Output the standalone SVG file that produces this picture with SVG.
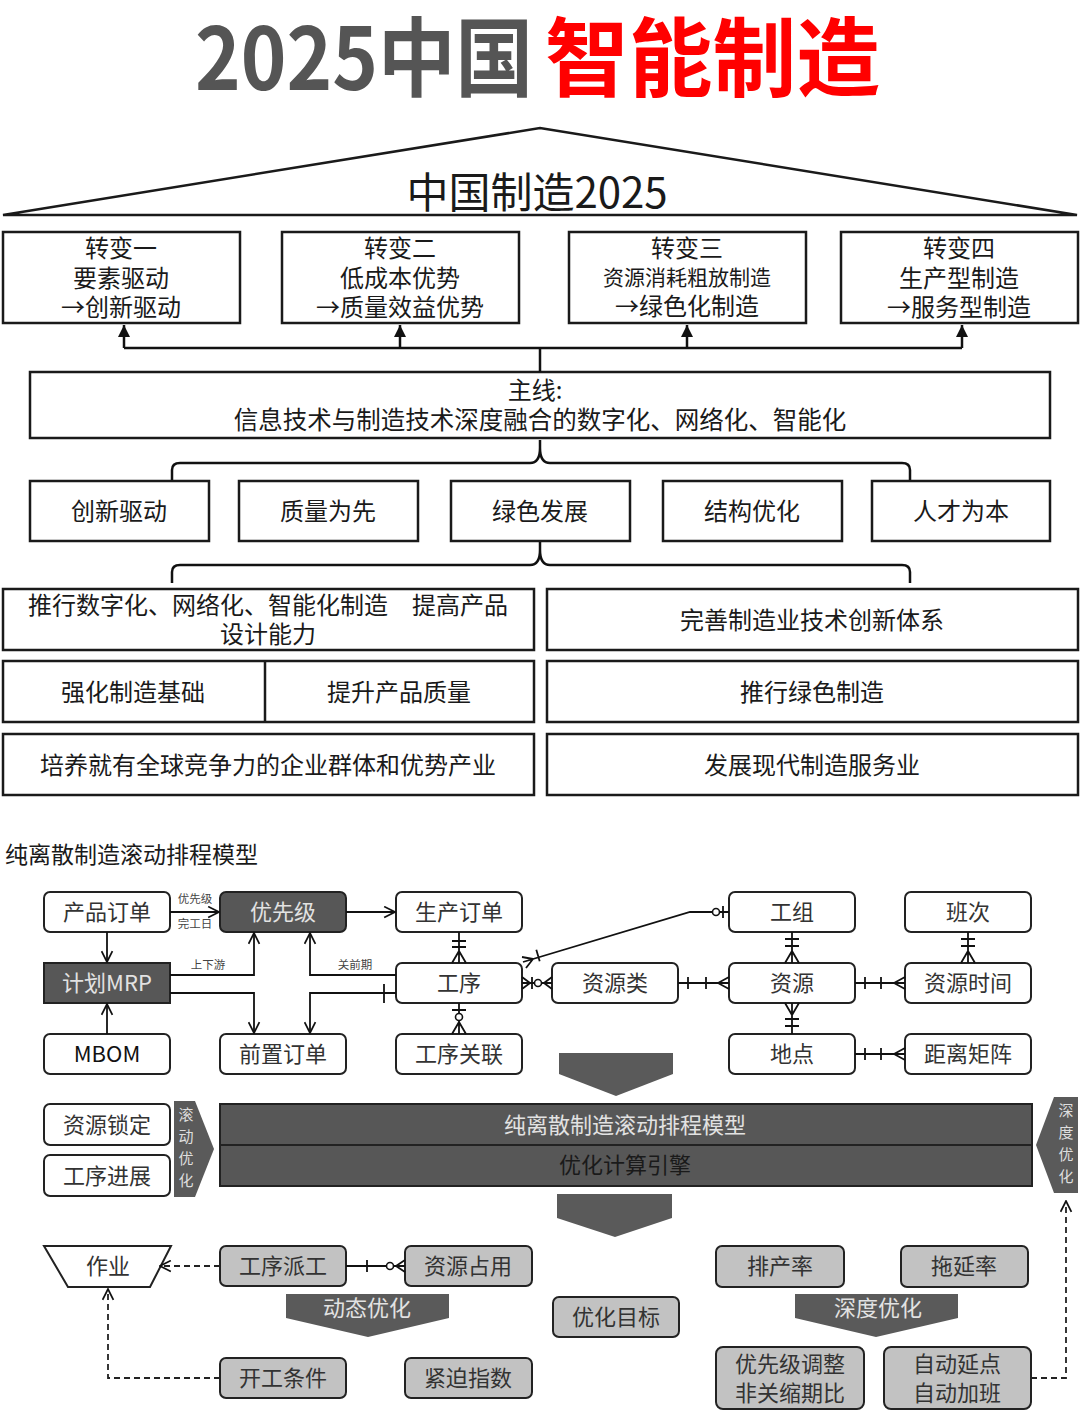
<svg xmlns="http://www.w3.org/2000/svg" width="1080" height="1411" viewBox="0 0 1080 1411">
<style>
text{font-family:"Noto Sans CJK SC","Noto Sans CJK JP","Liberation Sans",sans-serif;text-anchor:middle;dominant-baseline:central;transform:translate(0px,-2px)}
.bx{fill:#fff;stroke:#1a1a1a;stroke-width:2.5}
.t24{font-size:24px;fill:#1a1a1a}
.t21{font-size:21px;fill:#1a1a1a}
.nd{fill:#fff;stroke:#222;stroke-width:2}
.dk{fill:#575757;stroke:#222;stroke-width:2}
.gy{fill:#c2c2c2;stroke:#222;stroke-width:2}
.t22{font-size:22px;fill:#333}
.tw{font-size:22px;fill:#e2e2e2}
.sm{font-size:11.5px;fill:#444}
.vt{font-size:15px;fill:#dedede}
.ln{fill:none;stroke:#111;stroke-width:2.5}
.er{fill:none;stroke:#111;stroke-width:1.8}
.ds{fill:none;stroke:#222;stroke-width:1.8;stroke-dasharray:6,4}
.ban{fill:#5a5a5a}
</style>
<defs>
<marker id="fa" viewBox="0 0 10 10" refX="10" refY="5" markerWidth="14" markerHeight="12" markerUnits="userSpaceOnUse" orient="auto"><path d="M0,0 L10,5 L0,10 z" fill="#111"/></marker>
<marker id="oa" viewBox="0 0 12 12" refX="11" refY="6" markerWidth="13" markerHeight="13" markerUnits="userSpaceOnUse" orient="auto"><path d="M1,1 L11,6 L1,11" fill="none" stroke="#111" stroke-width="1.6"/></marker>
</defs>
<rect width="1080" height="1411" fill="#fff"/>

<g id="title">
<text x="195" y="54" style="text-anchor:start;font-size:86px;font-weight:700;fill:#555" textLength="338" lengthAdjust="spacingAndGlyphs">2025中国</text>
<text x="545" y="54" style="text-anchor:start;font-size:86px;font-weight:700;fill:#ff0000" textLength="335" lengthAdjust="spacingAndGlyphs">智能制造</text>
</g>

<g id="roof">
<path d="M3,215 L540,128 L1077,215 Z" fill="#fff" stroke="#1a1a1a" stroke-width="2.5"/>
<text x="537" y="191" style="font-size:42px;fill:#1a1a1a">中国制造2025</text>
</g>

<g id="change1"><rect class="bx" x="3" y="232" width="237" height="91"/>
<text class="t24" x="121" y="248">转变一</text><text class="t24" x="121" y="278">要素驱动</text><text class="t24" x="121" y="307">→创新驱动</text></g>
<g id="change2"><rect class="bx" x="282" y="232" width="237" height="91"/>
<text class="t24" x="400" y="248">转变二</text><text class="t24" x="400" y="278">低成本优势</text><text class="t24" x="400" y="307">→质量效益优势</text></g>
<g id="change3"><rect class="bx" x="569" y="232" width="237" height="91"/>
<text class="t24" x="687" y="248">转变三</text><text class="t21" x="687" y="278">资源消耗粗放制造</text><text class="t24" x="687" y="306">→绿色化制造</text></g>
<g id="change4"><rect class="bx" x="841" y="232" width="237" height="91"/>
<text class="t24" x="959" y="248">转变四</text><text class="t24" x="959" y="278">生产型制造</text><text class="t24" x="959" y="307">→服务型制造</text></g>

<g id="mainline"><rect class="bx" x="30" y="372" width="1020" height="66"/>
<text class="t24" x="535" y="390">主线:</text><text class="t24" x="540" y="420" style="font-size:24.5px">信息技术与制造技术深度融合的数字化、网络化、智能化</text></g>

<g id="p1"><rect class="bx" x="30" y="481" width="179" height="60"/><text class="t24" x="119" y="511">创新驱动</text></g>
<g id="p2"><rect class="bx" x="239" y="481" width="179" height="60"/><text class="t24" x="328" y="511">质量为先</text></g>
<g id="p3"><rect class="bx" x="451" y="481" width="179" height="60"/><text class="t24" x="540" y="511">绿色发展</text></g>
<g id="p4"><rect class="bx" x="663" y="481" width="179" height="60"/><text class="t24" x="752" y="511">结构优化</text></g>
<g id="p5"><rect class="bx" x="872" y="481" width="178" height="60"/><text class="t24" x="961" y="511">人才为本</text></g>

<g id="r1l"><rect class="bx" x="3" y="589" width="531" height="61"/>
<text class="t24" x="268" y="605">推行数字化、网络化、智能化制造　提高产品</text><text class="t24" x="268" y="634">设计能力</text></g>
<g id="r1r"><rect class="bx" x="547" y="589" width="531" height="61"/><text class="t24" x="812" y="620">完善制造业技术创新体系</text></g>
<g id="r2l"><rect class="bx" x="3" y="661" width="531" height="61"/><line x1="265" y1="661" x2="265" y2="722" stroke="#1a1a1a" stroke-width="2.5"/>
<text class="t24" x="133" y="692">强化制造基础</text><text class="t24" x="399" y="692">提升产品质量</text></g>
<g id="r2r"><rect class="bx" x="547" y="661" width="531" height="61"/><text class="t24" x="812" y="692">推行绿色制造</text></g>
<g id="r3l"><rect class="bx" x="3" y="734" width="531" height="61"/><text class="t24" x="268" y="765">培养就有全球竞争力的企业群体和优势产业</text></g>
<g id="r3r"><rect class="bx" x="547" y="734" width="531" height="61"/><text class="t24" x="812" y="765">发展现代制造服务业</text></g>

<text x="5" y="855" style="text-anchor:start;font-size:23px;fill:#1a1a1a">纯离散制造滚动排程模型</text>

<!-- lower diagram nodes -->
<g id="n_cpdd"><rect class="nd" x="44" y="892" width="126" height="40" rx="6"/><text class="t22" x="107" y="912">产品订单</text></g>
<g id="n_yxj"><rect class="dk" x="220" y="892" width="126" height="40" rx="6"/><text class="tw" x="283" y="912">优先级</text></g>
<g id="n_scdd"><rect class="nd" x="396" y="892" width="126" height="40" rx="6"/><text class="t22" x="459" y="912">生产订单</text></g>
<g id="n_gz"><rect class="nd" x="729" y="892" width="126" height="40" rx="6"/><text class="t22" x="792" y="912">工组</text></g>
<g id="n_bc"><rect class="nd" x="905" y="892" width="126" height="40" rx="6"/><text class="t22" x="968" y="912">班次</text></g>
<g id="n_mrp"><rect class="dk" x="44" y="963" width="126" height="40"/><text class="tw" x="107" y="983">计划MRP</text></g>
<g id="n_gx"><rect class="nd" x="396" y="963" width="126" height="40" rx="6"/><text class="t22" x="459" y="983">工序</text></g>
<g id="n_zyl"><rect class="nd" x="552" y="963" width="126" height="40" rx="6"/><text class="t22" x="615" y="983">资源类</text></g>
<g id="n_zy"><rect class="nd" x="729" y="963" width="126" height="40" rx="6"/><text class="t22" x="792" y="983">资源</text></g>
<g id="n_zysj"><rect class="nd" x="905" y="963" width="126" height="40" rx="6"/><text class="t22" x="968" y="983">资源时间</text></g>
<g id="n_mbom"><rect class="nd" x="44" y="1034" width="126" height="40" rx="6"/><text class="t22" x="107" y="1054" style="fill:#111">MBOM</text></g>
<g id="n_qzdd"><rect class="nd" x="220" y="1034" width="126" height="40" rx="6"/><text class="t22" x="283" y="1054">前置订单</text></g>
<g id="n_gxgl"><rect class="nd" x="396" y="1034" width="126" height="40" rx="6"/><text class="t22" x="459" y="1054">工序关联</text></g>
<g id="n_dd"><rect class="nd" x="729" y="1034" width="126" height="40" rx="6"/><text class="t22" x="792" y="1054">地点</text></g>
<g id="n_jljz"><rect class="nd" x="905" y="1034" width="126" height="40" rx="6"/><text class="t22" x="968" y="1054">距离矩阵</text></g>

<g id="chev1"><path class="ban" d="M559,1053 H673 V1074 L616,1096 L559,1074 Z"/></g>

<g id="n_zysd"><rect class="nd" x="44" y="1104" width="126" height="41" rx="6"/><text class="t22" x="107" y="1125">资源锁定</text></g>
<g id="n_gxjz"><rect class="nd" x="44" y="1155" width="126" height="41" rx="6"/><text class="t22" x="107" y="1176">工序进展</text></g>
<g id="roll"><path class="ban" d="M174,1101 H195 L214,1149 L195,1197 H174 Z"/>
<text class="vt" x="186" y="1115">滚</text><text class="vt" x="186" y="1137">动</text><text class="vt" x="186" y="1159">优</text><text class="vt" x="186" y="1181">化</text></g>
<g id="model"><rect x="220" y="1104" width="812" height="41" fill="#575757" stroke="#222" stroke-width="2"/>
<rect x="220" y="1145" width="812" height="41" fill="#575757" stroke="#222" stroke-width="2"/>
<text class="tw" x="625" y="1125">纯离散制造滚动排程模型</text><text class="t22" x="625" y="1165" style="fill:#1a1a1a">优化计算引擎</text></g>
<g id="deep"><path class="ban" d="M1078,1097 H1054 L1036,1145 L1054,1193 H1078 Z"/>
<text class="vt" x="1066" y="1111">深</text><text class="vt" x="1066" y="1133">度</text><text class="vt" x="1066" y="1155">优</text><text class="vt" x="1066" y="1177">化</text></g>
<g id="chev2"><path class="ban" d="M557,1194 H672 V1218 L615,1237 L557,1218 Z"/></g>

<g id="n_zuoye"><path d="M44,1246 H171 L150,1287 H68 Z" fill="#fff" stroke="#222" stroke-width="2"/><text class="t22" x="108" y="1266">作业</text></g>
<g id="n_gxpg"><rect class="gy" x="220" y="1246" width="126" height="40" rx="6"/><text class="t22" x="283" y="1266">工序派工</text></g>
<g id="n_zyzy"><rect class="gy" x="405" y="1246" width="127" height="40" rx="6"/><text class="t22" x="468" y="1266">资源占用</text></g>
<g id="dyn"><path class="ban" d="M286,1294 H449 V1318 L368,1337 L286,1318 Z"/><text class="tw" x="367" y="1308">动态优化</text></g>
<g id="n_kgtj"><rect class="gy" x="220" y="1358" width="126" height="40" rx="6"/><text class="t22" x="283" y="1378">开工条件</text></g>
<g id="n_jpzs"><rect class="gy" x="405" y="1358" width="127" height="40" rx="6"/><text class="t22" x="468" y="1378">紧迫指数</text></g>
<g id="n_yhmb"><rect class="gy" x="553" y="1297" width="126" height="40" rx="6"/><text class="t22" x="616" y="1317">优化目标</text></g>
<g id="n_pcl"><rect class="gy" x="716" y="1246" width="128" height="41" rx="6"/><text class="t22" x="780" y="1266">排产率</text></g>
<g id="n_tyl"><rect class="gy" x="901" y="1246" width="127" height="41" rx="6"/><text class="t22" x="964" y="1266">拖延率</text></g>
<g id="deep2"><path class="ban" d="M795,1294 H958 V1318 L876,1337 L795,1318 Z"/><text class="tw" x="878" y="1308">深度优化</text></g>
<g id="n_yxjtz"><rect class="gy" x="716" y="1347" width="148" height="62" rx="7"/><text class="t22" x="790" y="1364">优先级调整</text><text class="t22" x="790" y="1393">非关缩期比</text></g>
<g id="n_zdyd"><rect class="gy" x="884" y="1347" width="147" height="62" rx="7"/><text class="t22" x="957" y="1364">自动延点</text><text class="t22" x="957" y="1393">自动加班</text></g>

<g id="connectors">
<path class="ln" d="M124,348 H962"/>
<path class="ln" d="M124,348 V325" marker-end="url(#fa)"/>
<path class="ln" d="M400,348 V325" marker-end="url(#fa)"/>
<path class="ln" d="M687,348 V325" marker-end="url(#fa)"/>
<path class="ln" d="M962,348 V325" marker-end="url(#fa)"/>
<path class="ln" d="M540,348 V372"/>
<path class="ln" d="M172,480 V470 Q172,463 180,463 H530 Q540,463 540,448 Q540,463 550,463 H902 Q910,463 910,470 V480"/>
<path class="ln" d="M540,440 V448"/>
<path class="ln" d="M172,583 V572 Q172,565 180,565 H530 Q540,565 540,550 Q540,565 550,565 H902 Q910,565 910,572 V583"/>
<path class="ln" d="M540,542 V550"/>

<path class="er" d="M170,912 H219" marker-end="url(#oa)"/>
<text class="sm" x="195" y="900">优先级</text><text class="sm" x="195" y="925">完工日</text>
<path class="er" d="M346,912 H395" marker-end="url(#oa)"/>
<path class="er" d="M107,932 V962" marker-end="url(#oa)"/>
<path class="er" d="M107,1034 V1004" marker-end="url(#oa)"/>
<path class="er" d="M170,975 H254 V933" marker-end="url(#oa)"/>
<text class="sm" x="208" y="966">上下游</text>
<path class="er" d="M170,993 H254 V1033" marker-end="url(#oa)"/>
<path class="er" d="M396,975 H310 V933" marker-end="url(#oa)"/>
<text class="sm" x="355" y="966">关前期</text>
<path class="er" d="M396,993 H310 V1033" marker-end="url(#oa)"/>
<path class="er" d="M384,984 V1003" stroke-width="2"/>

<path class="er" d="M459,932 V963 M452,941 H466 M452,947 H466 M459,951 L452,963 M459,951 L466,963"/>
<path class="er" d="M459,1003 V1013.5 M459,1020.5 V1034 M452,1010 H466 M459,1022 L452,1034 M459,1022 L466,1034"/>
<circle cx="459" cy="1017" r="3.5" fill="#fff" stroke="#111" stroke-width="1.6"/>
<path class="er" d="M522,983 H534.5 M541.5,983 H552 M530,983 L522,977 M530,983 L522,989 M532,977 V989 M544,983 L552,977 M544,983 L552,989"/>
<circle cx="538" cy="983" r="3.5" fill="#fff" stroke="#111" stroke-width="1.6"/>
<path class="er" d="M523,962 L690,912 H712.5 M719.5,912 H729 M533,959 L522,957 M533,959 L526,968 M536.3,949.8 L539.7,961.2 M723,906 V918"/>
<circle cx="716" cy="912" r="3.5" fill="#fff" stroke="#111" stroke-width="1.6"/>
<path class="er" d="M792,932 V963 M785,939 H799 M785,946 H799 M792,951 L785,963 M792,951 L799,963"/>
<path class="er" d="M792,1003 V1034 M792,1015 L785,1003 M792,1015 L799,1003 M785,1019 H799 M785,1026 H799"/>
<path class="er" d="M678,983 H729 M688,977 V989 M706,977 V989 M718,983 L729,977 M718,983 L729,989"/>
<path class="er" d="M855,983 H905 M865,977 V989 M881,977 V989 M894,983 L905,977 M894,983 L905,989"/>
<path class="er" d="M968,932 V963 M961,939 H975 M961,946 H975 M968,951 L961,963 M968,951 L975,963"/>
<path class="er" d="M855,1054 H905 M865,1048 V1060 M881,1048 V1060 M894,1054 L905,1048 M894,1054 L905,1060"/>
<path class="er" d="M346,1266 H386.5 M393.5,1266 H405 M367,1260 V1272 M396,1266 L405,1260 M396,1266 L405,1272"/>
<circle cx="390" cy="1266" r="3.5" fill="#fff" stroke="#111" stroke-width="1.6"/>

<path class="ds" d="M220,1266 H160" marker-end="url(#oa)"/>
<path class="ds" d="M220,1378 H108 V1289" marker-end="url(#oa)"/>
<path class="ds" d="M1031,1378 H1066 V1201" marker-end="url(#oa)"/>
</g>
</svg>
